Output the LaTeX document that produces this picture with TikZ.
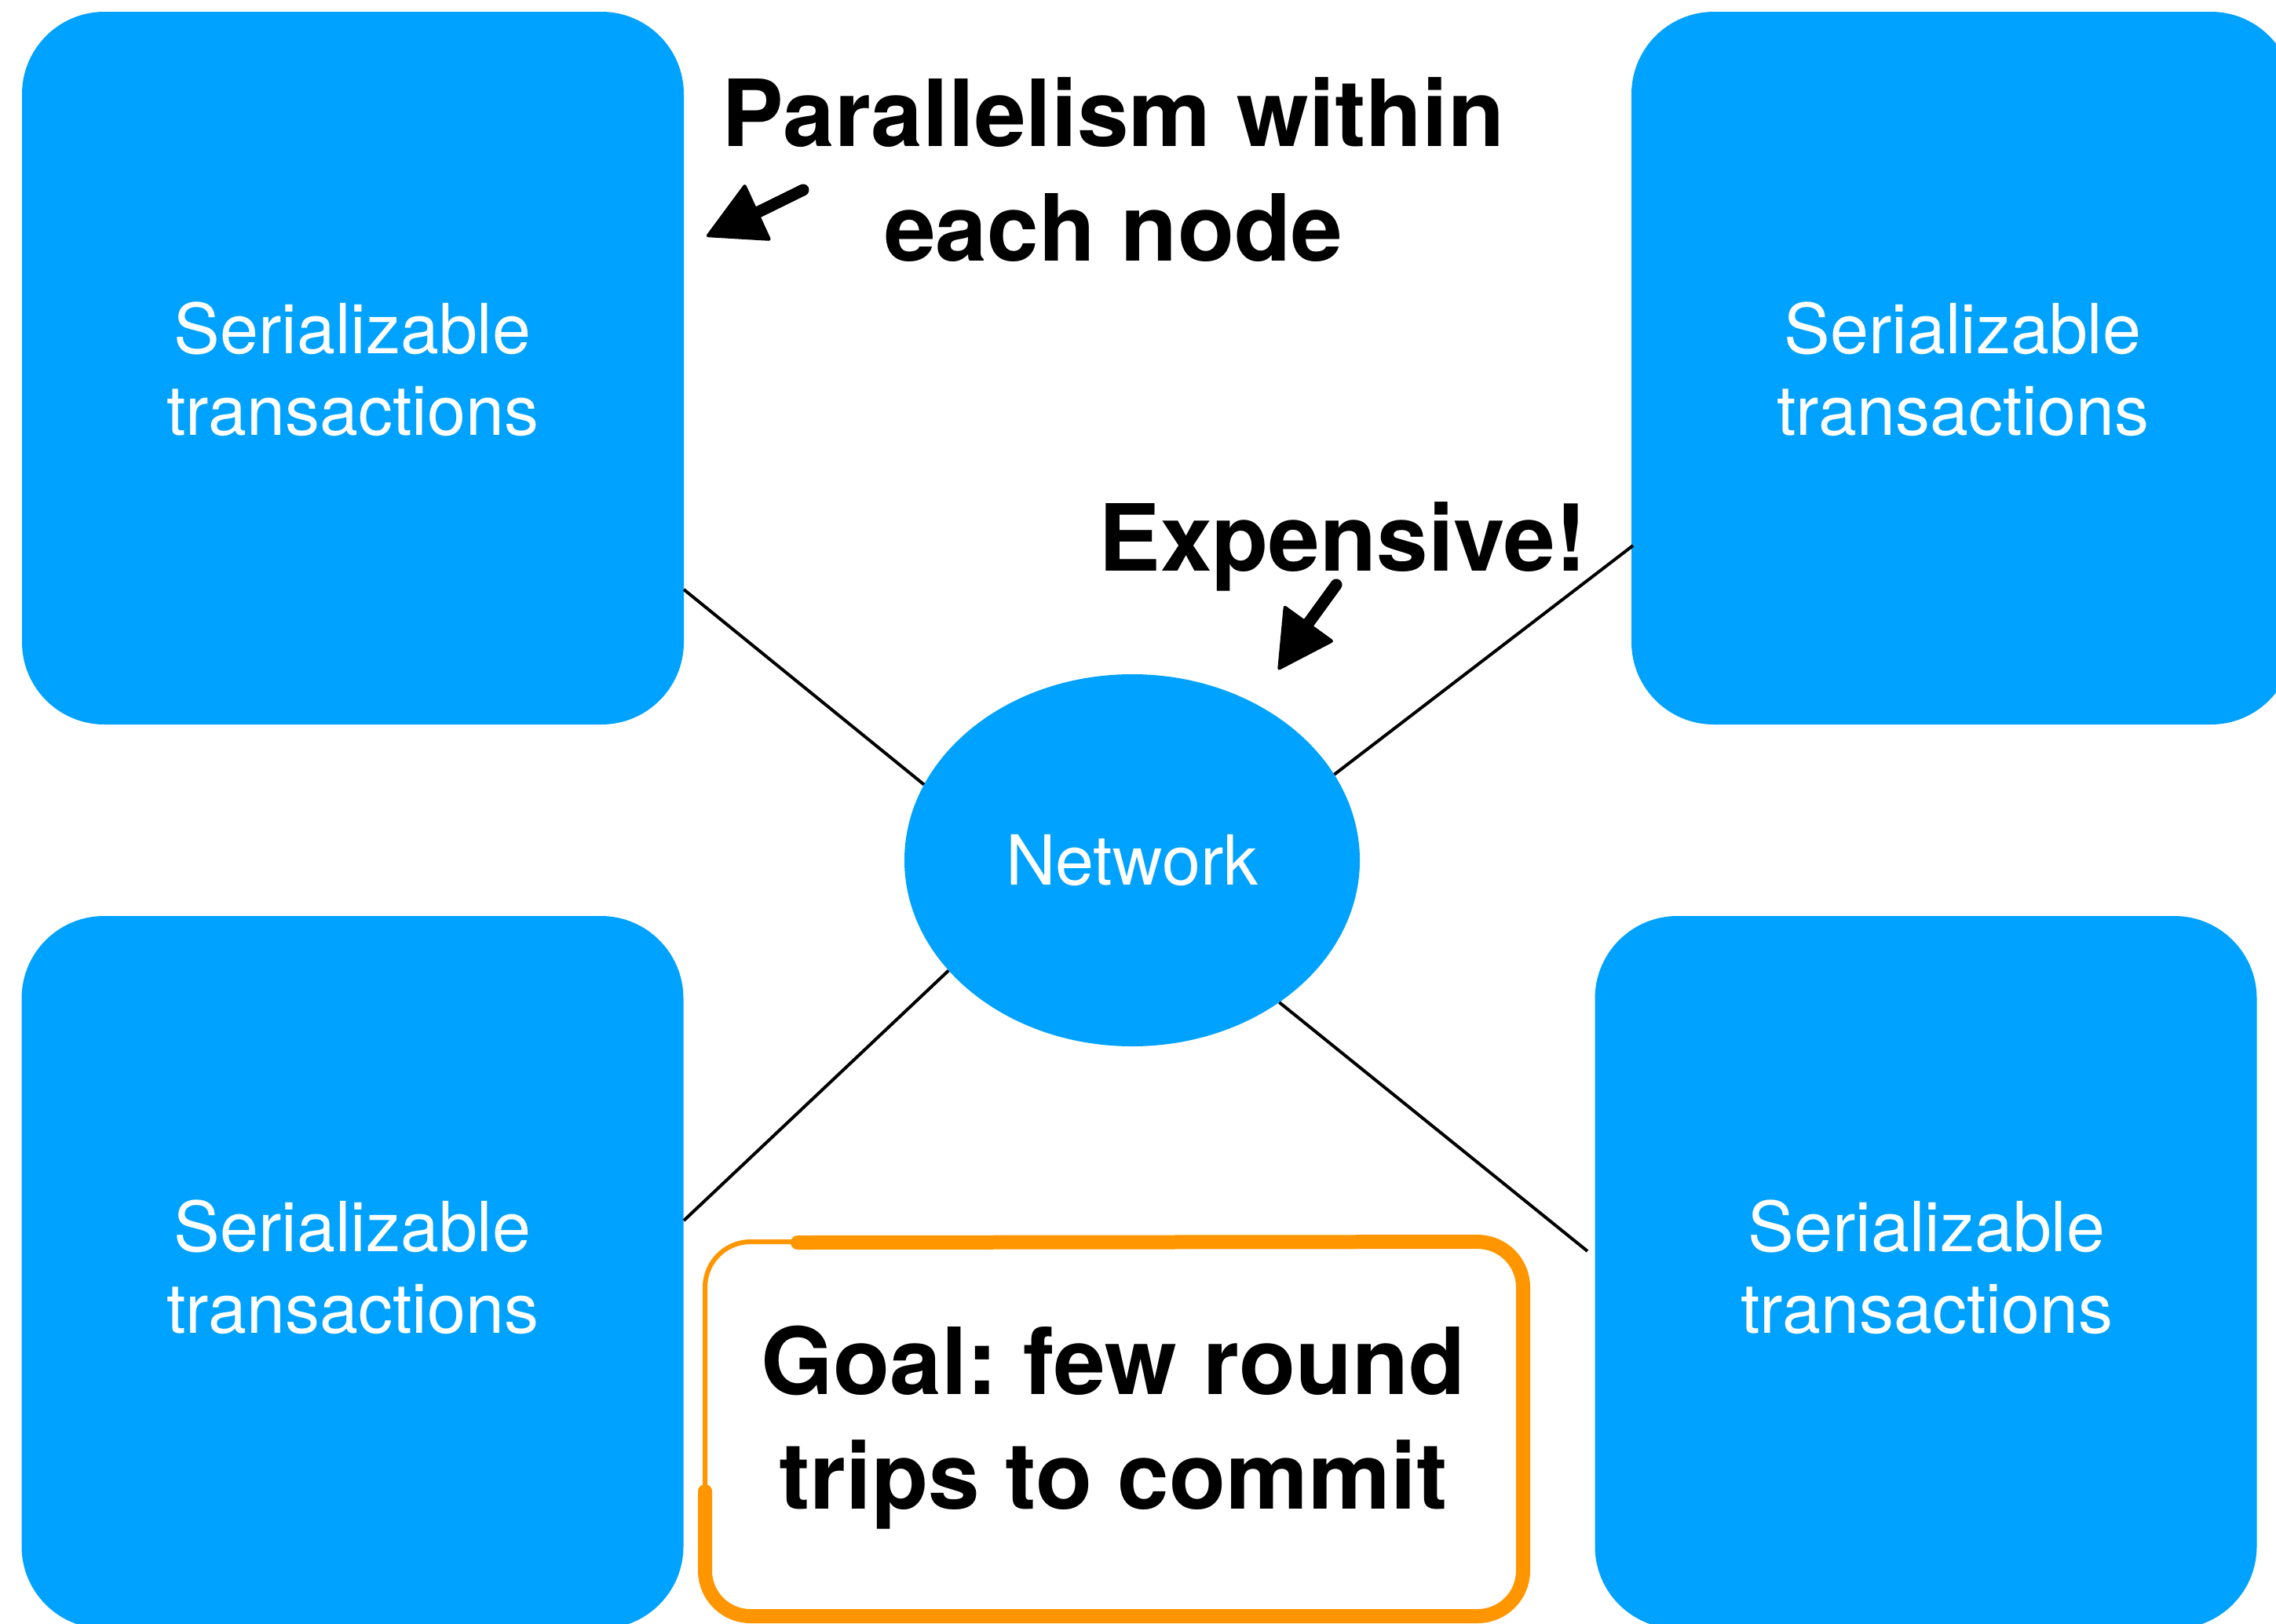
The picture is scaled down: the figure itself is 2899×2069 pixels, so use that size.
\documentclass[tikz,border=0pt]{standalone}
\usepackage{fontspec}
\setmainfont{TeX Gyre Heros}
\usetikzlibrary{shapes.geometric}
\definecolor{nodeblue}{RGB}{0,162,255}
\definecolor{goalorange}{RGB}{255,150,0}
\begin{document}
\frenchspacing
\begin{tikzpicture}[x=1pt,y=-1pt,
  server/.style={fill=nodeblue, draw=none, rounded corners=105pt, minimum width=843pt, minimum height=908pt, inner sep=0pt},
  servertext/.style={text=white, align=center, font=\fontsize{88}{104}\selectfont},
  net/.style={ellipse, fill=nodeblue, draw=none, minimum width=580pt, minimum height=474pt, inner sep=0pt, text=white, font=\fontsize{88}{104}\selectfont},
  link/.style={line width=4pt, black},
  title/.style={align=center, font=\fontsize{118}{146}\selectfont\bfseries},
  shaft/.style={line width=15pt, line cap=round, black},
  head/.style={fill=black, rounded corners=4pt}]
\clip (0,0) rectangle (2899,2069);
\fill[white] (0,0) rectangle (2899,2069);

% servers
\node[server] (tl) at (449.5,469) {};
\node[server] (tr) at (2499.5,469) {};
\node[server] (bl) at (449,1621) {};
\node[server] (br) at (2453,1621) {};
\node[servertext] (tltext) at (449,470) {Serializable\\transactions};
\node[servertext] (trtext) at (2500,470) {Serializable\\transactions};
\node[servertext] (bltext) at (449,1614) {Serializable\\transactions};
\node[servertext] (brtext) at (2454,1614) {Serializable\\transactions};

% network
\node[net] (net) at (1442,1096) {Network};

% links
\coordinate (tlp) at (871,751);
\coordinate (trp) at (2080,695);
\coordinate (blp) at (871,1555);
\coordinate (brp) at (2022,1594);
\draw[link] (tlp) -- (net.160.9);
\draw[link] (trp) -- (net.23.5);
\draw[link] (blp) -- (net.211.4);
\draw[link] (brp) -- (net.316.4);

% annotations
\node[title] (par) at (1418,216) {Parallelism within\\each node};
\node[title, anchor=base] (exp) at (1710,727) {Expensive!};

\coordinate (a1tail) at (1023,242);
\coordinate (a1base) at (962,272);
\coordinate (a1tip) at (898,302);
\coordinate (a1l) at (949,233);
\coordinate (a1r) at (983,307);
\draw[shaft] (a1tail) -- (a1base);
\fill[head] (a1tip) -- (a1l) -- (a1r) -- cycle;

\coordinate (a2tail) at (1702,745);
\coordinate (a2base) at (1665,796);
\coordinate (a2tip) at (1627,855);
\coordinate (a2l) at (1635,770);
\coordinate (a2r) at (1700,817);
\draw[shaft] (a2tail) -- (a2base);
\fill[head] (a2tip) -- (a2l) -- (a2r) -- cycle;

% goal box
\draw[goalorange, line width=6pt, rounded corners=58pt, fill=white] (898,1582) rectangle (1940,2059);
\draw[goalorange, line width=18pt, line cap=round, rounded corners=58pt]
  (1016,1583) -- (1940,1582) -- (1940,2059) -- (898,2059) -- (898,1900);
\node[title] (goal) at (1418,1819) {Goal: few round\\trips to commit};
\end{tikzpicture}
\end{document}
